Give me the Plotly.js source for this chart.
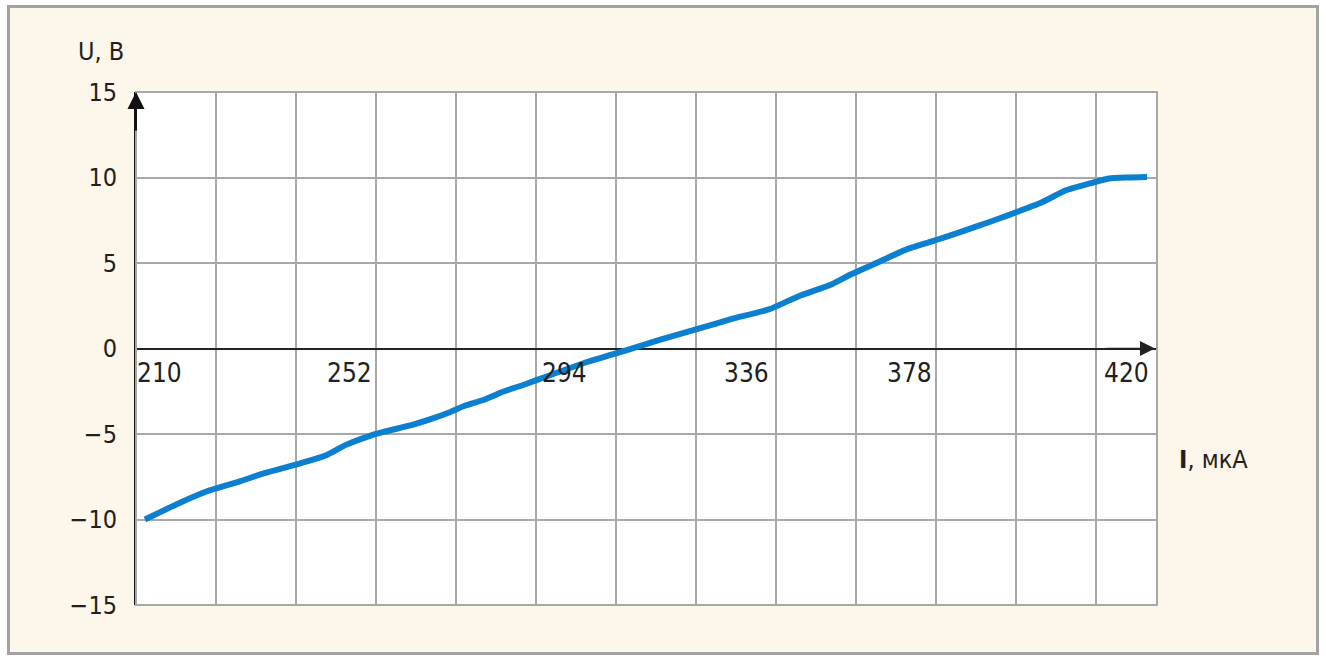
<!DOCTYPE html>
<html>
<head>
<meta charset="utf-8">
<script src="https://cdn.plot.ly/plotly-3.0.1.min.js"></script>
<style>html,body{margin:0;padding:0;background:#fff;}#chart{width:1326px;height:662px;}</style>
</head>
<body>
<div id="chart"></div>
<script>
// Data: current I (мкА) and voltage U (В)
const currentI = [210,217,223,230,235,242,248,252,257,260,266,270,274,277,281,285,290,294,303,308,314,318,326,333,341,347,354,358,364,370,376,381,387,391,398,403,408,412,416,420];
const voltageU = [-10,-9.06,-8.35,-7.76,-7.29,-6.76,-6.24,-5.65,-5.12,-4.88,-4.47,-4.12,-3.71,-3.35,-3.0,-2.53,-2.06,-1.65,-0.76,-0.35,0.17,0.52,1.16,1.73,2.31,3.06,3.76,4.34,5.09,5.84,6.36,6.82,7.40,7.80,8.55,9.25,9.65,9.94,10.0,10.03];
const xTickLabels = ['210','252','294','336','378','420'];
const yTickValues = [-15,-10,-5,0,5,10,15];

// layout constants (label placement along the axis, in data units)
const xLabelPos = [213.1, 252.8, 298.0, 336.0, 370.3, 415.8];
const xRange = [208.11, 422.10];
const yRange = [-15, 15];
const gridStep = 16.766;

const FONT = 'Liberation Sans Narrow, DejaVu Sans Condensed, Arial Narrow, sans-serif';
const TXT = '#231f20';
const GRID = '#a8a8a8';

const trace = {
  x: currentI, y: voltageU, type: 'scatter', mode: 'lines',
  line: {color: '#0b7fd0', width: 6, shape: 'spline', smoothing: 0.5},
  hoverinfo: 'skip'
};

const annotations = xTickLabels.map((t, i) => ({
  x: xLabelPos[i], y: 0, xref: 'x', yref: 'y', text: t, showarrow: false,
  xanchor: 'center', yanchor: 'top', yshift: -7, font: {family: FONT, size: 26, color: TXT}
}));
annotations.push(
  {x: -0.0343, y: 1.078, xref: 'paper', yref: 'paper', text: 'U, B', showarrow: false,
   xanchor: 'center', yanchor: 'middle', font: {family: FONT, size: 25, color: TXT}},
  {x: 1.0549, y: 0.2846, xref: 'paper', yref: 'paper', text: '<b>I</b>, мкА', showarrow: false,
   xanchor: 'center', yanchor: 'middle', font: {family: FONT, size: 25, color: TXT}},
  // y-axis arrow
  {x: xRange[0], y: yRange[1], xref: 'x', yref: 'y', text: '', showarrow: true,
   ax: 0, ay: 40, arrowhead: 2, arrowsize: 1.7, arrowwidth: 2, arrowcolor: '#111', standoff: 0},
  // x-axis arrow
  {x: 0.998, y: 0, xref: 'paper', yref: 'y', text: '', showarrow: true,
   ax: -50, ay: 0, arrowhead: 2, arrowsize: 2, arrowwidth: 1.5, arrowcolor: '#222', standoff: 0}
);

const layout = {
  width: 1326, height: 662,
  margin: {l: 136, r: 169, t: 92, b: 57},
  paper_bgcolor: '#fdf6ea',
  plot_bgcolor: '#ffffff',
  showlegend: false,
  xaxis: {
    range: xRange, tick0: xRange[0], dtick: gridStep,
    showgrid: true, gridcolor: GRID, gridwidth: 2,
    showticklabels: false, ticks: '', zeroline: false, showline: false, fixedrange: true
  },
  yaxis: {
    range: yRange, tickvals: yTickValues,
    showgrid: true, gridcolor: GRID, gridwidth: 2,
    zeroline: true, zerolinecolor: '#222', zerolinewidth: 2,
    showline: true, linecolor: '#111', linewidth: 2,
    ticks: '', ticklabelstandoff: 12,
    tickfont: {family: FONT, size: 25, color: TXT}, fixedrange: true
  },
  shapes: [
    {type: 'rect', xref: 'paper', yref: 'paper', x0: -0.1332, x1: 1.16553, y0: -0.1111, y1: 1.17934,
     line: {color: '#ffffff', width: 14}, layer: 'below'},
    {type: 'rect', xref: 'paper', yref: 'paper', x0: -0.12488, x1: 1.15720, y0: -0.09454, y1: 1.16667,
     line: {color: '#a3a3a3', width: 3}, layer: 'below'},
    {type: 'rect', xref: 'paper', yref: 'paper', x0: 0, x1: 1, y0: 0, y1: 1,
     line: {color: GRID, width: 2}, layer: 'above'}
  ],
  annotations: annotations
};

Plotly.newPlot('chart', [trace], layout, {displayModeBar: false, staticPlot: true});
</script>
</body>
</html>
